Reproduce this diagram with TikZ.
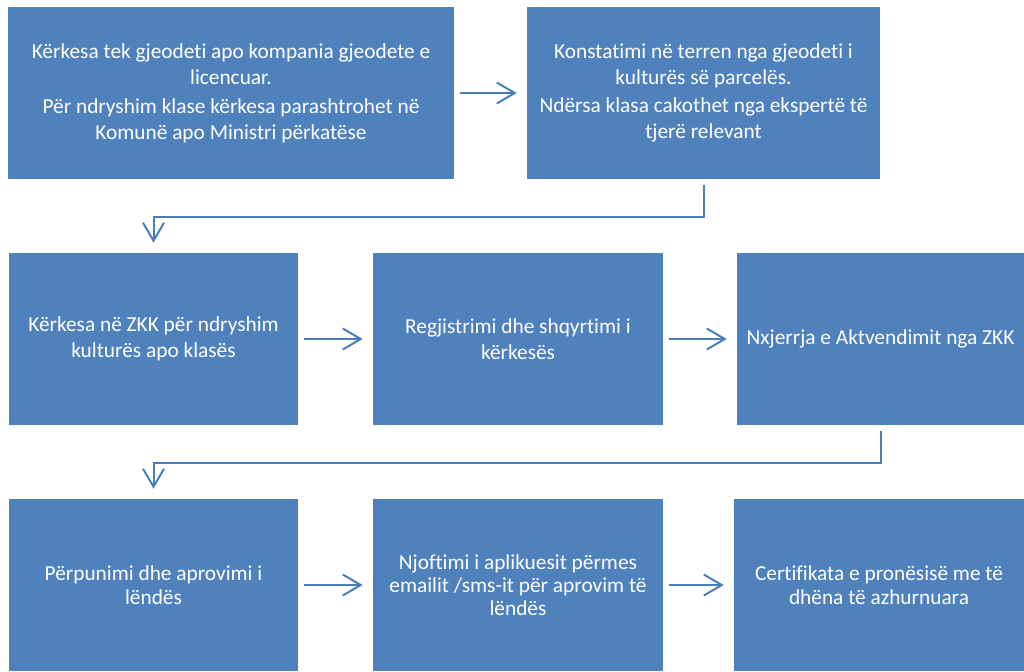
\documentclass[tikz,border=0pt]{standalone}
\usepackage{fontspec}
\setmainfont{Carlito}[Ligatures=NoCommon]
\usetikzlibrary{arrows.meta}
\definecolor{boxblue}{HTML}{4F81BD}
\definecolor{linkblue}{HTML}{4A7EBB}

\begin{document}
\begin{tikzpicture}[x=0.75pt,y=-0.75pt,
  stepbox/.style={fill=boxblue, text=white, align=center, inner sep=0pt,
    minimum height={172*0.75pt}, font=\fontsize{16}{19.5}\selectfont},
  lowbox/.style={stepbox, font=\fontsize{16}{17.5}\selectfont},
  link/.style={draw=linkblue, line width=1.5pt, shorten <=4.5pt, shorten >=7.5pt,
    -{Straight Barb[length=13.5pt,width=15.75pt]}}]
\useasboundingbox (0,0) rectangle (1024,671);

% first row
\node[stepbox, minimum width={446*0.75pt}] (a) at (231,93)
  {Kërkesa tek gjeodeti apo kompania gjeodete e\\licencuar.\\[2pt]
   Për ndryshim klase kërkesa parashtrohet në\\Komunë apo Ministri përkatëse};
\node[stepbox, minimum width={353*0.75pt}] (b) at (703.5,93)
  {Konstatimi në terren nga gjeodeti i\\kulturës së parcelës.\\[2pt]
   Ndërsa klasa cakothet nga ekspertë të\\tjerë relevant};

% second row
\node[stepbox, minimum width={289*0.75pt}] (c) at (153.5,339)
  {Kërkesa në ZKK për ndryshim\\kulturës apo klasës};
\node[stepbox, minimum width={290*0.75pt}] (d) at (518,339)
  {Regjistrimi dhe shqyrtimi i\\kërkesës};
\node[stepbox, minimum width={287*0.75pt}] (e) at (880.5,339)
  {Nxjerrja e Aktvendimit nga ZKK};

% third row
\node[lowbox, minimum width={289*0.75pt}] (f) at (153.5,585)
  {Përpunimi dhe aprovimi i\\lëndës};
\node[lowbox, minimum width={290*0.75pt}] (g) at (518,585)
  {Njoftimi i aplikuesit përmes\\emailit /sms-it për aprovim të\\lëndës};
\node[lowbox, minimum width={290*0.75pt}] (h) at (879,585)
  {Certifikata e pronësisë me të\\dhëna të azhurnuara};

% connectors
\draw[link] (a) -- (b);
\draw[link] (b.south) -- ++(0,37.7) -| (c.north);
\draw[link] (c) -- (d);
\draw[link] (d) -- (e);
\draw[link] (e.south) -- ++(0,37.3) -| (f.north);
\draw[link] (f) -- (g);
\draw[link] (g) -- (h);
\end{tikzpicture}
\end{document}
